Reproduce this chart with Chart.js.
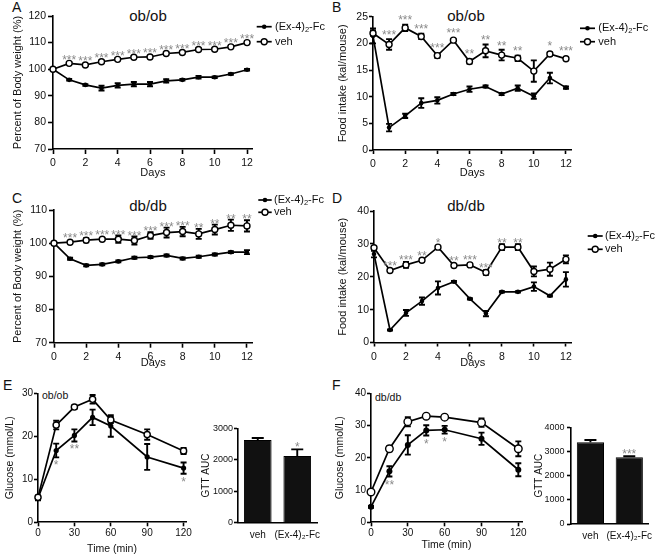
<!DOCTYPE html>
<html>
<head>
<meta charset="utf-8">
<script src="https://cdn.jsdelivr.net/npm/chart.js@4.4.1/dist/chart.umd.min.js"></script>
<style>
body{margin:0;background:#fff}
#fig{position:relative;width:661px;height:555px;overflow:hidden;font-family:'Liberation Sans',Arial,sans-serif;color:#111}
.lbl{position:absolute;font-size:14px;line-height:14px}
.ttl{position:absolute;font-size:15px;line-height:15px;transform:translateX(-50%);white-space:nowrap}
.sub{position:absolute;font-size:10.5px;line-height:10.5px;white-space:nowrap}
canvas{position:absolute}
</style>
</head>
<body>
<div id="fig">
  <div class="lbl" style="left:12px;top:0px">A</div>
  <div class="lbl" style="left:332px;top:0px">B</div>
  <div class="lbl" style="left:12px;top:191px">C</div>
  <div class="lbl" style="left:332px;top:191px">D</div>
  <div class="lbl" style="left:3px;top:378px">E</div>
  <div class="lbl" style="left:332px;top:378px">F</div>
  <div class="ttl" style="left:148px;top:7.7px">ob/ob</div>
  <div class="ttl" style="left:466px;top:7.7px">ob/ob</div>
  <div class="ttl" style="left:148px;top:198.4px">db/db</div>
  <div class="ttl" style="left:466px;top:198.4px">db/db</div>
  <div class="sub" style="left:42px;top:390px">ob/ob</div>
  <div class="sub" style="left:375px;top:392px">db/db</div>
</div>
<script>
const FONT = "'Liberation Sans', Arial, sans-serif";

// x values and labels
const days = [0, 1, 2, 3, 4, 5, 6, 7, 8, 9, 10, 11, 12];
const dayTicks = [0, 2, 4, 6, 8, 10, 12];
const gttTimes = [0, 15, 30, 45, 60, 90, 120];
const timeTicks = [0, 30, 60, 90, 120];
const seriesNames = ['(Ex-4)₂-Fc', 'veh'];
const aucGroups = ['veh', '(Ex-4)₂-Fc'];

// A - ob/ob body weight (%)
const aExMean = [100, 96, 94.1, 92.9, 93.9, 94.4, 94.4, 95.6, 96, 97, 97, 98.2, 99.8];
const aExErr = [0, 0.3, 0.3, 0.9, 0.8, 0.8, 0.8, 0.6, 0.3, 0.5, 0.3, 0.3, 0.3];
const aVehMean = [100, 102.2, 101.6, 102.8, 103.7, 104.5, 104.6, 105.9, 106.3, 107.4, 107.5, 108.4, 110];
const aVehErr = [0, 0.3, 0.3, 0.4, 0.4, 0.4, 0.4, 0.4, 0.4, 0.4, 0.4, 0.4, 0.4];
const aStars = ['', '***', '***', '***', '***', '***', '***', '***', '***', '***', '***', '***', '***'];

// B - ob/ob food intake
const bExMean = [21.4, 4.2, 6.4, 8.8, 9.3, 10.5, 11.4, 11.9, 10.5, 11.6, 10.1, 13.5, 11.7];
const bExErr = [1.4, 0.7, 0.4, 0.9, 0.6, 0.2, 0.5, 0.2, 0.2, 0.5, 0.5, 1.0, 0.2];
const bVehMean = [21.9, 19.8, 22.9, 21.3, 17.7, 20.6, 16.6, 18.6, 17.8, 17.2, 14.8, 18.0, 17.1];
const bVehErr = [0.5, 1.0, 0.6, 0.5, 0.4, 0.2, 0.4, 1.2, 1.0, 0.5, 2.0, 0.3, 0.2];
const bStars = ['', '***', '***', '***', '***', '***', '**', '**', '**', '**', '', '*', '***'];

// C - db/db body weight (%)
const cExMean = [100, 95.3, 93.3, 93.6, 94.5, 95.6, 95.8, 96.3, 95.4, 95.9, 96.6, 97.3, 97.3];
const cExErr = [0, 0.3, 0.3, 0.3, 0.3, 0.3, 0.3, 0.3, 0.3, 0.3, 0.3, 0.3, 0.6];
const cVehMean = [100, 100.3, 100.9, 101.2, 101.2, 100.8, 102.3, 103.2, 103.5, 102.8, 104.1, 105.4, 105.2];
const cVehErr = [0, 0.3, 0.6, 0.3, 1.1, 1.2, 1.0, 1.5, 1.4, 1.5, 1.5, 1.7, 1.7];
const cStars = ['', '***', '***', '***', '***', '***', '***', '***', '***', '**', '**', '**', '**'];

// D - db/db food intake
const dExMean = [26.9, 3.8, 9.0, 12.6, 16.6, 18.5, 13.3, 8.8, 15.4, 15.4, 17.0, 14.2, 19.2];
const dExErr = [1.0, 0.2, 0.9, 1.1, 2.0, 0.2, 0.2, 0.8, 0.2, 0.2, 1.3, 0.2, 2.2];
const dVehMean = [28.8, 21.9, 23.6, 25.0, 29.0, 23.4, 23.6, 21.3, 29.0, 29.0, 21.6, 22.3, 25.3];
const dVehErr = [0.3, 0.3, 0.9, 0.3, 0.3, 0.3, 0.3, 0.7, 0.9, 0.9, 1.5, 2.0, 1.2];
const dStars = ['', '***', '***', '**', '*', '**', '***', '***', '**', '**', '', '', ''];

// E - ob/ob GTT
const eExMean = [5.6, 16.7, 20.2, 24.4, 22.4, 15.2, 12.6];
const eExErr = [0.5, 1.6, 1.4, 1.8, 2.5, 3.0, 1.3];
const eVehMean = [5.8, 22.6, 26.8, 28.6, 23.8, 20.4, 16.6];
const eVehErr = [0.4, 1.0, 0.4, 1.0, 0.7, 1.2, 0.7];
const eStars = ['', '*', '**', '', '', '', '*'];
const eAuc = [2630, 2120];
const eAucErr = [60, 210];
const eAucStars = ['', '*'];

// F - db/db GTT
const fExMean = [4.8, 15.8, 24.0, 28.5, 28.7, 25.9, 16.3];
const fExErr = [0.3, 1.6, 3.0, 1.6, 1.2, 1.9, 2.0];
const fVehMean = [9.4, 22.8, 31.2, 32.9, 32.6, 30.9, 22.8];
const fVehErr = [0.3, 0.8, 1.4, 0.3, 0.3, 1.3, 2.3];
const fStars = ['', '**', '', '*', '*', '', ''];
const fAuc = [3380, 2760];
const fAucErr = [95, 45];
const fAucStars = ['', '***'];

const fig = document.getElementById('fig');

// error bars behind the marks, asterisks on top
const errorBars = {
  id: 'errorBars',
  beforeDatasetsDraw(chart) {
    const ctx = chart.ctx;
    const ys = chart.scales.y;
    chart.data.datasets.forEach((ds, i) => {
      if (!ds.err) return;
      const meta = chart.getDatasetMeta(i);
      ctx.save();
      ctx.strokeStyle = '#000';
      ctx.lineWidth = 1.9;
      meta.data.forEach((el, j) => {
        const e = ds.err[j];
        if (!e) return;
        const v = meta.controller.getParsed(j).y;
        const top = ys.getPixelForValue(v + e);
        const bot = ds.upOnly ? el.y : ys.getPixelForValue(v - e);
        const w = ds.capW || 3;
        ctx.beginPath();
        ctx.moveTo(el.x, top); ctx.lineTo(el.x, bot);
        ctx.moveTo(el.x - w, top); ctx.lineTo(el.x + w, top);
        if (!ds.upOnly) { ctx.moveTo(el.x - w, bot); ctx.lineTo(el.x + w, bot); }
        ctx.stroke();
      });
      ctx.restore();
    });
  },
  afterDatasetsDraw(chart, args, opts) {
    const ctx = chart.ctx;
    const ys = chart.scales.y;
    const gap = opts.gap || 0;
    chart.data.datasets.forEach((ds, i) => {
      if (!ds.stars) return;
      const meta = chart.getDatasetMeta(i);
      ctx.save();
      ctx.font = '12px ' + FONT;
      ctx.fillStyle = '#8a8a8a';
      ctx.textAlign = 'center';
      ctx.textBaseline = 'alphabetic';
      meta.data.forEach((el, j) => {
        const s = ds.stars[j];
        if (!s) return;
        const v = meta.controller.getParsed(j).y;
        const e = ds.err ? ds.err[j] : 0;
        const r = (ds.pointRadius || 0) + 0.6;
        if (ds.starPos === 'below') {
          const b = Math.max(ys.getPixelForValue(v - e), el.y + r);
          ctx.fillText(s, el.x, b + 12);
        } else {
          const t = Math.min(ys.getPixelForValue(v + e), el.y - r);
          ctx.fillText(s, el.x, t + gap);
        }
      });
      ctx.restore();
    });
  }
};

// legend at the right of the top panels
const sideLegend = {
  id: 'sideLegend',
  afterDraw(chart, args, o) {
    if (!o || !o.ys) return;
    const ctx = chart.ctx;
    seriesNames.forEach((name, k) => {
      const y = o.ys[k];
      const filled = k === 0;
      ctx.save();
      ctx.strokeStyle = '#000';
      ctx.lineWidth = 1.7;
      ctx.beginPath(); ctx.moveTo(o.x1, y); ctx.lineTo(o.x2, y); ctx.stroke();
      ctx.beginPath();
      ctx.arc((o.x1 + o.x2) / 2, y, filled ? 2.3 : 3, 0, Math.PI * 2);
      ctx.fillStyle = filled ? '#000' : '#fff';
      ctx.fill();
      if (!filled) { ctx.lineWidth = 1.4; ctx.stroke(); }
      ctx.fillStyle = '#111';
      ctx.textAlign = 'left';
      ctx.textBaseline = 'middle';
      let x = o.tx;
      const parts = name.split('₂');
      parts.forEach((p, n) => {
        ctx.font = '11px ' + FONT;
        ctx.fillText(p, x, y);
        x += ctx.measureText(p).width;
        if (n < parts.length - 1) {
          ctx.font = '7.5px ' + FONT;
          ctx.fillText('2', x, y + 3);
          x += ctx.measureText('2').width;
        }
      });
      ctx.restore();
    });
  }
};

function pts(xs, ys) {
  return xs.map((x, i) => ({ x: x, y: ys[i] }));
}

function lineSets(xs, exM, exE, vehM, vehE, stars, starOn, rEx, rVeh) {
  const common = { borderColor: '#000', borderWidth: 1.7, tension: 0, fill: false, clip: false, pointBorderColor: '#000' };
  return [
    Object.assign({ label: seriesNames[0], data: pts(xs, exM), err: exE, order: 1, pointRadius: rEx,
      pointBackgroundColor: '#000', pointBorderWidth: 0,
      stars: starOn === 'ex' ? stars : null, starPos: 'below' }, common),
    Object.assign({ label: seriesNames[1], data: pts(xs, vehM), err: vehE, order: 0, pointRadius: rVeh,
      pointBackgroundColor: '#fff', pointBorderWidth: 1.4,
      stars: starOn === 'veh' ? stars : null, starPos: 'above' }, common)
  ];
}

function makeChart(s) {
  const [cx, cy, cw, ch] = s.box;
  const [L, T, R, B] = s.area;
  const cv = document.createElement('canvas');
  cv.width = cw; cv.height = ch;
  cv.style.left = cx + 'px'; cv.style.top = cy + 'px';
  cv.style.width = cw + 'px'; cv.style.height = ch + 'px';
  fig.appendChild(cv);
  const font = { family: FONT, size: s.fs };
  const tFont = { family: FONT, size: s.tfs || s.fs };
  const tlh = (s.tfs || s.fs) * 1.2;

  const xScale = {
    type: s.bar ? 'category' : 'linear',
    offset: !!s.bar,
    border: { display: true, color: '#000', width: 1.6 },
    grid: { display: true, drawOnChartArea: false, drawTicks: !s.bar, tickLength: s.tl, tickWidth: 1.6, tickColor: '#000' },
    ticks: { color: '#111', font: s.bar ? tFont : font, padding: s.xPad, maxRotation: 0, autoSkip: false },
    afterFit: sc => { sc.height = cy + ch - B; }
  };
  if (!s.bar) {
    xScale.min = 0;
    xScale.max = s.xMax;
    xScale.afterBuildTicks = sc => { sc.ticks = s.xTicks.map(v => ({ value: v })); };
  }
  if (s.xTitle) {
    xScale.title = { display: true, text: s.xTitle, color: '#111', font: tFont,
      padding: { top: 0, bottom: Math.max(0, cy + ch - s.xTitleY - tlh / 2) } };
  }

  const yScale = {
    min: s.yMin, max: s.yMax,
    border: { display: true, color: '#000', width: 1.6 },
    grid: { display: true, drawOnChartArea: false, drawTicks: true, tickLength: s.tl, tickWidth: 1.6, tickColor: '#000' },
    ticks: { stepSize: s.yStep, color: '#111', font: font, padding: s.yPad, callback: v => String(v) },
    title: { display: true, text: s.yTitle, color: '#111', font: tFont,
      padding: { top: s.yTitleX - cx - tlh / 2, bottom: 0 } },
    afterFit: sc => { sc.width = L - cx; }
  };

  let legendOpts = false;
  if (s.legend) {
    legendOpts = { x1: s.legend.x1 - cx, x2: s.legend.x2 - cx, tx: s.legend.tx - cx, ys: s.legend.ys.map(v => v - cy) };
  }

  return new Chart(cv, {
    type: s.bar ? 'bar' : 'line',
    data: s.data,
    options: {
      responsive: false,
      animation: false,
      events: [],
      devicePixelRatio: 1,
      layout: { padding: { left: 0, top: T - cy, right: cx + cw - R, bottom: 0 } },
      scales: { x: xScale, y: yScale },
      plugins: {
        legend: { display: false },
        tooltip: { enabled: false },
        errorBars: { gap: s.gap || 0 },
        sideLegend: legendOpts
      }
    },
    plugins: [errorBars, sideLegend]
  });
}

// A
makeChart({
  box: [0, 0, 330, 185], area: [53, 16, 252.7, 149],
  fs: 10.5, tfs: 11, tl: 5, xPad: 3, yPad: 2,
  xMax: 12.35, xTicks: dayTicks, yMin: 70, yMax: 120, yStep: 10,
  yTitle: 'Percent of Body weight (%)', yTitleX: 18.3, xTitle: 'Days', xTitleY: 172.7,
  legend: { x1: 256.7, x2: 271.7, tx: 275, ys: [26.7, 41.7] }, gap: 4,
  data: { datasets: lineSets(days, aExMean, aExErr, aVehMean, aVehErr, aStars, 'veh', 2.3, 3) }
});

// B
makeChart({
  box: [330, 0, 331, 185], area: [373, 16.7, 571.6, 150],
  fs: 10.5, tfs: 11, tl: 4, xPad: 4, yPad: 1,
  xMax: 12.35, xTicks: dayTicks, yMin: 0, yMax: 25, yStep: 5,
  yTitle: 'Food intake (kal/mouse)', yTitleX: 342.7, xTitle: 'Days', xTitleY: 172.7,
  legend: { x1: 580, x2: 595, tx: 598.3, ys: [28.3, 41.7] }, gap: 0,
  data: { datasets: lineSets(days, bExMean, bExErr, bVehMean, bVehErr, bStars, 'veh', 2.3, 3) }
});

// C
makeChart({
  box: [0, 185, 330, 185], area: [54, 210, 252.6, 342.7],
  fs: 10.5, tfs: 11, tl: 5, xPad: 3, yPad: 2,
  xMax: 12.35, xTicks: dayTicks, yMin: 70, yMax: 110, yStep: 10,
  yTitle: 'Percent of Body weight (%)', yTitleX: 18.3, xTitle: 'Days', xTitleY: 366.7,
  legend: { x1: 258.3, x2: 271.7, tx: 274, ys: [200, 212.3] }, gap: 3,
  data: { datasets: lineSets(days, cExMean, cExErr, cVehMean, cVehErr, cStars, 'veh', 2.3, 3) }
});

// D
makeChart({
  box: [330, 185, 331, 185], area: [374, 211, 571.5, 342.5],
  fs: 10.5, tfs: 11, tl: 4, xPad: 4, yPad: 1,
  xMax: 12.35, xTicks: dayTicks, yMin: 0, yMax: 40, yStep: 10,
  yTitle: 'Food intake (kal/mouse)', yTitleX: 342.7, xTitle: 'Days', xTitleY: 366.7,
  legend: { x1: 587.7, x2: 602.7, tx: 605, ys: [236, 249.3] }, gap: 3,
  data: { datasets: lineSets(days, dExMean, dExErr, dVehMean, dVehErr, dStars, 'veh', 2.3, 3) }
});

// E line
makeChart({
  box: [0, 370, 200, 185], area: [38, 393.3, 186, 522.3],
  fs: 10, tfs: 10.5, tl: 4, xPad: 1, yPad: 1,
  xMax: 122, xTicks: timeTicks, yMin: 0, yMax: 30, yStep: 10,
  yTitle: 'Glucose (mmol/L)', yTitleX: 10, xTitle: 'Time (min)', xTitleY: 549,
  data: { datasets: lineSets(gttTimes, eExMean, eExErr, eVehMean, eVehErr, eStars, 'ex', 2.6, 3.1) }
});

// E bar
makeChart({
  bar: true,
  box: [200, 370, 130, 185], area: [238, 428.3, 317, 522.7],
  fs: 9, tfs: 10, tl: 4, xPad: 6.3, yPad: 1,
  yMin: 0, yMax: 3000, yStep: 1000,
  yTitle: 'GTT AUC', yTitleX: 206.7, gap: 2,
  data: {
    labels: aucGroups,
    datasets: [{ data: eAuc, err: eAucErr, upOnly: true, capW: 6, stars: eAucStars, starPos: 'above',
      backgroundColor: '#111', borderColor: '#000', borderWidth: 1, barPercentage: 0.7, categoryPercentage: 1 }]
  }
});

// F line
makeChart({
  box: [330, 370, 200, 185], area: [371, 393.3, 522, 522.3],
  fs: 10, tfs: 10.5, tl: 4, xPad: 1, yPad: 1,
  xMax: 123, xTicks: timeTicks, yMin: 0, yMax: 40, yStep: 10,
  yTitle: 'Glucose (mmol/L)', yTitleX: 340, xTitle: 'Time (min)', xTitleY: 545,
  data: { datasets: lineSets(gttTimes, fExMean, fExErr, fVehMean, fVehErr, fStars, 'ex', 3, 3.8) }
});

// F bar
makeChart({
  bar: true,
  box: [530, 370, 131, 185], area: [571, 427.3, 652, 524],
  fs: 9, tfs: 10, tl: 4, xPad: 6.7, yPad: 2.5,
  yMin: 0, yMax: 4000, yStep: 1000,
  yTitle: 'GTT AUC', yTitleX: 539, gap: 2,
  data: {
    labels: aucGroups,
    datasets: [{ data: fAuc, err: fAucErr, upOnly: true, capW: 6, stars: fAucStars, starPos: 'above',
      backgroundColor: '#111', borderColor: '#000', borderWidth: 1, barPercentage: 0.7, categoryPercentage: 1 }]
  }
});
</script>
</body>
</html>
